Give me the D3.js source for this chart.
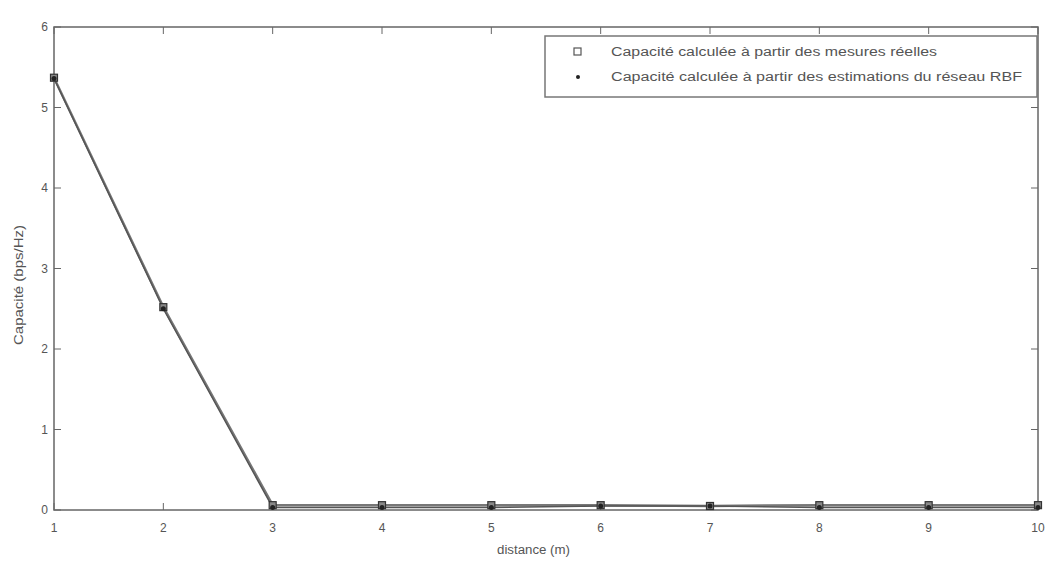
<!DOCTYPE html>
<html><head><meta charset="utf-8">
<script src="https://cdn.jsdelivr.net/npm/d3@7"></script>
<style>body{margin:0;background:#fff;} text{font-family:"Liberation Sans",Arial,sans-serif;}</style>
</head><body><svg id="c" width="1045" height="562"></svg>
<script>
const distances = [1,2,3,4,5,6,7,8,9,10];
const mesures = [5.37,2.52,0.06,0.06,0.06,0.06,0.05,0.06,0.06,0.06];
const rbf = [5.36,2.50,0.03,0.03,0.03,0.05,0.05,0.03,0.03,0.03];
const xTicks = [1,2,3,4,5,6,7,8,9,10];
const yTicks = [0,1,2,3,4,5,6];
const legendLabels = ["Capacité calculée à partir des mesures réelles","Capacité calculée à partir des estimations du réseau RBF"];

const svg = d3.select("#c");
const L=54,R=1038,T=27,B=510;
const x = d3.scaleLinear().domain([1,10]).range([L,R]);
const y = d3.scaleLinear().domain([0,6]).range([B,T]);
const axCol="#666";
const g = svg.append("g");
g.append("rect").attr("x",L).attr("y",T).attr("width",R-L).attr("height",B-T).attr("fill","none").attr("stroke",axCol).attr("stroke-width",1.5);
xTicks.forEach(v=>{
  g.append("line").attr("x1",x(v)).attr("x2",x(v)).attr("y1",B).attr("y2",B-7).attr("stroke",axCol);
  g.append("line").attr("x1",x(v)).attr("x2",x(v)).attr("y1",T).attr("y2",T+7).attr("stroke",axCol);
  g.append("text").attr("x",x(v)).attr("y",B+22).attr("text-anchor","middle").attr("font-size",12).attr("fill","#555").text(v);
});
yTicks.forEach(v=>{
  g.append("line").attr("x1",L).attr("x2",L+7).attr("y1",y(v)).attr("y2",y(v)).attr("stroke",axCol);
  g.append("line").attr("x1",R).attr("x2",R-7).attr("y1",y(v)).attr("y2",y(v)).attr("stroke",axCol);
  g.append("text").attr("x",L-6).attr("y",y(v)+4).attr("text-anchor","end").attr("font-size",12).attr("fill","#555").text(v);
});
g.append("text").attr("x",497).attr("y",554).attr("font-size",12).attr("fill","#555")
  .attr("textLength",73).attr("lengthAdjust","spacingAndGlyphs").text("distance (m)");
g.append("text").attr("transform","translate(23,345) rotate(-90)").attr("font-size",12).attr("fill","#555")
  .attr("textLength",120).attr("lengthAdjust","spacingAndGlyphs").text("Capacité (bps/Hz)");

const line = d3.line().x((d,i)=>x(distances[i])).y(d=>y(d));
svg.append("path").datum(mesures).attr("d",line).attr("fill","none").attr("stroke","#777").attr("stroke-width",2.5);
svg.append("path").datum(rbf).attr("d",line).attr("fill","none").attr("stroke","#555").attr("stroke-width",1.5);
svg.selectAll(".sq").data(mesures).enter().append("rect")
  .attr("x",(d,i)=>x(distances[i])-3.5).attr("y",d=>y(d)-3.5).attr("width",7).attr("height",7)
  .attr("fill","#888").attr("stroke","#333").attr("stroke-width",1.2);
svg.selectAll(".dt").data(rbf).enter().append("circle")
  .attr("cx",(d,i)=>x(distances[i])).attr("cy",d=>y(d)).attr("r",2.5).attr("fill","#222");

const lg = svg.append("g");
lg.append("rect").attr("x",545).attr("y",36).attr("width",492).attr("height",61).attr("fill","#fff").attr("stroke","#777").attr("stroke-width",1.5);
lg.append("rect").attr("x",574).attr("y",48).attr("width",7).attr("height",7).attr("fill","none").attr("stroke","#555").attr("stroke-width",1.2);
lg.append("circle").attr("cx",578).attr("cy",77).attr("r",2).attr("fill","#222");
const widths=[326,411];
legendLabels.forEach((t,i)=>{
  lg.append("text").attr("x",611).attr("y",56+i*25).attr("font-size",12).attr("fill","#555")
    .attr("textLength",widths[i]).attr("lengthAdjust","spacingAndGlyphs").text(t);
});
</script></body></html>
